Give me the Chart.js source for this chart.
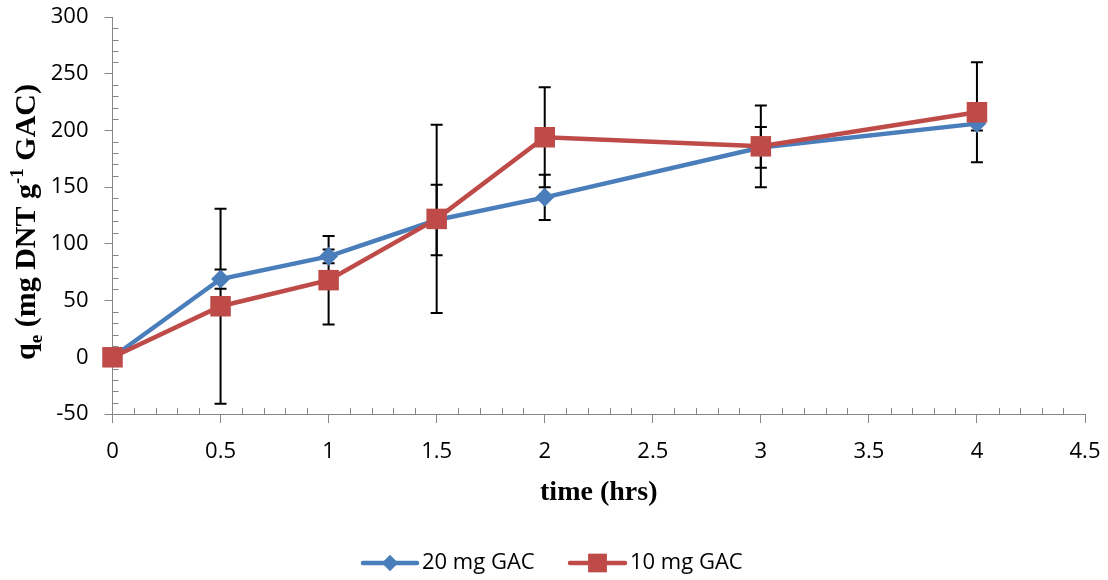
<!DOCTYPE html>
<html>
<head>
<meta charset="utf-8">
<script src="https://cdn.jsdelivr.net/npm/chart.js@4.4.0/dist/chart.umd.min.js"></script>
<style>
  html, body { margin: 0; padding: 0; background: #fff; }
  #wrap { width: 1108px; height: 580px; }
</style>
</head>
<body>
<div id="wrap"><canvas id="kinetics-chart" width="1108" height="580"></canvas></div>
<script>
// Adsorption kinetics: qe vs time for two GAC doses

const times = [0, 0.5, 1, 1.5, 2, 3, 4];
const gac20 = [0, 69, 89, 121, 141, 185, 206];
const gac20Err = [0, 8.5, 6, 31, 20, 18, 6];
const gac10 = [0, 45, 68, 122, 194, 186, 216];
const gac10Err = [0, 86, 39, 83, 44, 36, 44];
const seriesNames = ['20 mg GAC', '10 mg GAC'];

const xTicks = [0, 0.5, 1, 1.5, 2, 2.5, 3, 3.5, 4, 4.5];
const yTicks = [-50, 0, 50, 100, 150, 200, 250, 300];

const BLUE = '#4A7EBB';
const RED = '#BE4B48';
const AXIS = '#868686';
const TICK_FONT = { family: '"Open Sans", sans-serif', size: 22 };

function toPoints(xs, ys) {
    return xs.map((x, i) => ({ x: x, y: ys[i] }));
}

// error bars, drawn under the lines and markers
const errorBars = {
    id: 'errorBars',
    beforeDatasetsDraw(chart) {
        const ctx = chart.ctx;
        const xs = chart.scales.x;
        const ys = chart.scales.y;
        const errs = [gac20Err, gac10Err];
        ctx.save();
        ctx.strokeStyle = '#000';
        ctx.lineWidth = 2;
        chart.data.datasets.forEach((ds, d) => {
            ds.data.forEach((p, i) => {
                const e = errs[d][i];
                if (!e) return;
                const px = xs.getPixelForValue(p.x);
                const top = ys.getPixelForValue(p.y + e);
                const bot = ys.getPixelForValue(p.y - e);
                ctx.beginPath();
                ctx.moveTo(px, top); ctx.lineTo(px, bot);
                ctx.moveTo(px - 6, top); ctx.lineTo(px + 6, top);
                ctx.moveTo(px - 6, bot); ctx.lineTo(px + 6, bot);
                ctx.stroke();
            });
        });
        ctx.restore();
    }
};

// minor ticks on the inside of both axes
const minorTicks = {
    id: 'minorTicks',
    afterDraw(chart) {
        const ctx = chart.ctx;
        const xs = chart.scales.x;
        const ys = chart.scales.y;
        const area = chart.chartArea;
        ctx.save();
        ctx.strokeStyle = AXIS;
        ctx.lineWidth = 1;
        ctx.beginPath();
        for (let v = -50; v <= 300; v += 10) {
            if (v % 50 === 0) continue;
            const py = Math.round(ys.getPixelForValue(v)) + 0.5;
            ctx.moveTo(area.left, py); ctx.lineTo(area.left + 6, py);
        }
        for (let k = 0; k <= 45; k++) {
            if (k % 5 === 0) continue;
            const px = Math.round(xs.getPixelForValue(k / 10)) + 0.5;
            ctx.moveTo(px, area.bottom); ctx.lineTo(px, area.bottom - 6);
        }
        ctx.stroke();
        ctx.restore();
    }
};

// axis titles (y title needs sub/superscript) and the legend
const labelsAndLegend = {
    id: 'labelsAndLegend',
    afterDraw(chart) {
        const ctx = chart.ctx;
        const area = chart.chartArea;
        ctx.save();
        ctx.fillStyle = '#000';

        // x title
        ctx.font = 'bold 28px "Liberation Serif", serif';
        ctx.textAlign = 'center';
        ctx.textBaseline = 'alphabetic';
        ctx.fillText('time (hrs)', (area.left + area.right) / 2, 500);

        // y title, pieces laid out along the rotated baseline
        const big = 'bold 30px "Liberation Serif", serif';
        const small = 'bold 19px "Liberation Serif", serif';
        const parts = [
            { t: 'q', f: big, dy: 0 },
            { t: 'e', f: small, dy: 7 },
            { t: ' (mg DNT g', f: big, dy: 0 },
            { t: '-1', f: small, dy: -12 },
            { t: ' GAC)', f: big, dy: 0 }
        ];
        let total = 0;
        parts.forEach(p => { ctx.font = p.f; total += ctx.measureText(p.t).width; });
        ctx.translate(35, 222);
        ctx.rotate(-Math.PI / 2);
        ctx.textAlign = 'left';
        let cx = -total / 2;
        parts.forEach(p => {
            ctx.font = p.f;
            ctx.fillText(p.t, cx, p.dy);
            cx += ctx.measureText(p.t).width;
        });
        ctx.setTransform(1, 0, 0, 1, 0, 0);

        // legend
        const ly = 563;
        const items = [
            { x0: 363, x1: 417, color: BLUE, style: 'rectRot', r: 8, name: seriesNames[0] },
            { x0: 570, x1: 625, color: RED, style: 'rect', r: 13, name: seriesNames[1] }
        ];
        ctx.font = '22px "Open Sans", sans-serif';
        ctx.textBaseline = 'middle';
        items.forEach(it => {
            ctx.strokeStyle = it.color;
            ctx.lineWidth = 4.5;
            ctx.lineCap = 'round';
            ctx.beginPath();
            ctx.moveTo(it.x0, ly); ctx.lineTo(it.x1, ly);
            ctx.stroke();
            ctx.fillStyle = it.color;
            Chart.helpers.drawPoint(ctx, { pointStyle: it.style, radius: it.r, borderWidth: 0, rotation: 0 }, (it.x0 + it.x1) / 2, ly);
            ctx.fill();
            ctx.fillStyle = '#000';
            ctx.fillText(it.name, it.x1 + 5, ly);
        });
        ctx.restore();
    }
};

new Chart(document.getElementById('kinetics-chart'), {
    type: 'line',
    data: {
        datasets: [
            {
                label: seriesNames[0],
                data: toPoints(times, gac20),
                borderColor: BLUE,
                backgroundColor: BLUE,
                borderWidth: 4.5,
                pointStyle: 'rectRot',
                pointRadius: 9.5,
                pointBorderWidth: 0,
                tension: 0,
                clip: false,
                order: 1
            },
            {
                label: seriesNames[1],
                data: toPoints(times, gac10),
                borderColor: RED,
                backgroundColor: RED,
                borderWidth: 4.5,
                pointStyle: 'rect',
                pointRadius: 14.5,
                pointBorderWidth: 0,
                tension: 0,
                clip: false,
                order: 0
            }
        ]
    },
    options: {
        responsive: false,
        animation: false,
        events: [],
        layout: { padding: { left: 0, right: 23, top: 17, bottom: 0 } },
        plugins: {
            legend: { display: false },
            tooltip: { enabled: false }
        },
        scales: {
            x: {
                type: 'linear',
                min: 0,
                max: 4.5,
                afterBuildTicks: scale => { scale.ticks = xTicks.map(v => ({ value: v })); },
                afterFit: scale => {
                    scale.height = 166;
                    scale.paddingLeft = 0;
                    scale.paddingRight = 0;
                },
                border: { color: AXIS, width: 1 },
                grid: { drawOnChartArea: false, drawTicks: true, tickLength: 9, tickColor: AXIS },
                ticks: { color: '#000', font: TICK_FONT, padding: 16, maxRotation: 0, callback: v => String(v) }
            },
            y: {
                min: -50,
                max: 300,
                afterBuildTicks: scale => { scale.ticks = yTicks.map(v => ({ value: v })); },
                afterFit: scale => {
                    scale.width = 112.5;
                    scale.paddingTop = 0;
                    scale.paddingBottom = 0;
                },
                border: { color: AXIS, width: 1 },
                grid: { drawOnChartArea: false, drawTicks: true, tickLength: 8, tickColor: AXIS },
                ticks: { color: '#000', font: TICK_FONT, padding: 16, callback: v => String(v) }
            }
        }
    },
    plugins: [errorBars, minorTicks, labelsAndLegend]
});
</script>
</body>
</html>
